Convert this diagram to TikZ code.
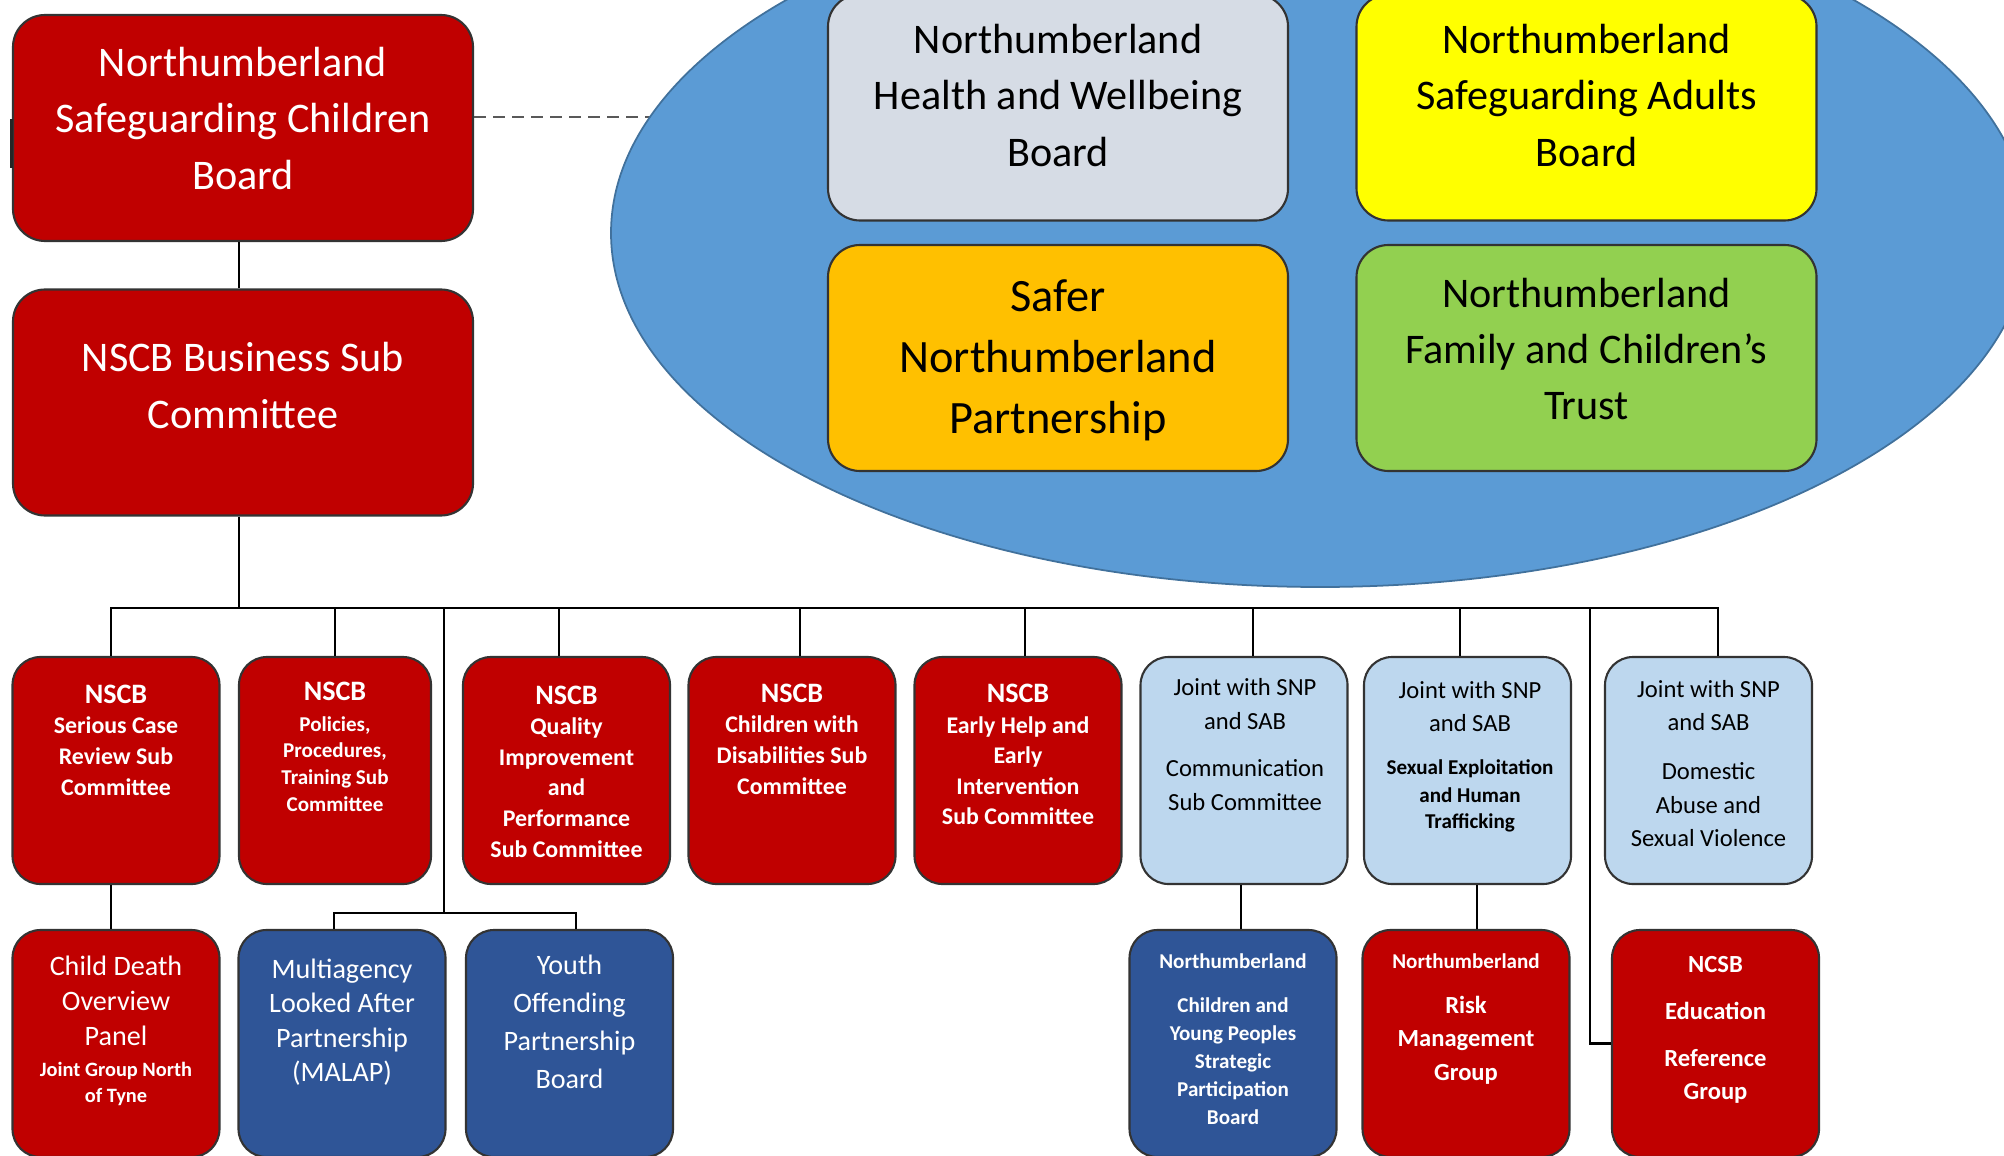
\documentclass[tikz,border=0pt]{standalone}
\usepackage{fontspec}
\setmainfont{Carlito}
\usetikzlibrary{shapes.geometric}
\definecolor{nscbred}{HTML}{C00000}
\definecolor{hubblue}{HTML}{5B9BD5}
\definecolor{hubline}{HTML}{41719C}
\definecolor{hwbgrey}{HTML}{D6DCE5}
\definecolor{sabyellow}{HTML}{FFFF00}
\definecolor{snporange}{HTML}{FFC000}
\definecolor{fctgreen}{HTML}{92D050}
\definecolor{jointblue}{HTML}{BDD7EE}
\definecolor{navyblue}{HTML}{2F5597}

\begin{document}
\begin{tikzpicture}[
  box/.style={draw=black!80, line width=0.6pt, inner sep=0pt, rounded corners=0.28cm},
  bigbox/.style={box, rounded corners=0.32cm, minimum width=4.6cm, minimum height=2.26cm},
  subbox/.style={box, minimum width=2.07cm, minimum height=2.27cm},
  bigtxt/.style={align=center, inner sep=0pt, font=\fontsize{12}{16}\selectfont},
  subtxt/.style={align=center, inner sep=0pt, text=white, font=\bfseries\fontsize{6.8}{8.7}\selectfont},
  jointtxt/.style={align=center, inner sep=0pt, font=\fontsize{7}{9.5}\selectfont},
  link/.style={black, line width=0.6pt}
]
\useasboundingbox (0,0) rectangle (20.04,-11.55);
\clip (0,0) rectangle (20.04,-11.55);

% board and business sub committee
\node[bigbox, fill=nscbred] (nscb) at (2.43,-1.28) {};
\node[bigtxt, text=white] (nscb-t) at (2.43,-1.185) {Northumberland\\Safeguarding Children\\Board};
\draw[black!85, line width=1pt] (0.115,-1.19) -- (0.115,-1.68);
\node[bigbox, fill=nscbred] (bsc) at (2.43,-4.025) {};
\node[bigtxt, text=white] (bsc-t) at (2.43,-3.855) {NSCB Business Sub\\Committee};

% partner boards
\coordinate (dashend) at (8.0,-1.17);
\draw[black!65, line width=0.6pt, dash pattern=on 0.12cm off 0.07cm] ([yshift=1.1mm]nscb.east) -- (dashend);
\coordinate (hubc) at (13.20,-2.33);
\node[ellipse, fill=hubblue, draw=hubline, line width=0.5pt, inner sep=0pt,
  minimum width=14.18cm, minimum height=7.08cm] (hub) at (hubc) {};

\node[bigbox, fill=hwbgrey] (hwb) at (10.58,-1.075) {};
\node[bigtxt] (hwb-t) at (10.58,-0.955) {Northumberland\\Health and Wellbeing\\Board};
\node[bigbox, fill=sabyellow] (sab) at (15.865,-1.075) {};
\node[bigtxt] (sab-t) at (15.865,-0.955) {Northumberland\\Safeguarding Adults\\Board};
\node[bigbox, fill=snporange] (snp) at (10.58,-3.58) {};
\node[bigtxt, font=\fontsize{13.2}{17.4}\selectfont] (snp-t) at (10.58,-3.60) {Safer\\Northumberland\\Partnership};
\node[bigbox, fill=fctgreen] (fct) at (15.865,-3.58) {};
\node[bigtxt] (fct-t) at (15.865,-3.49) {Northumberland\\Family and Children’s\\Trust};

% sub committees
\node[subbox, fill=nscbred] (scr) at (1.16,-7.705) {};
\node[subtxt] (scr-t) at (1.16,-7.40) {{\fontsize{8}{8.7}\selectfont NSCB}\\Serious Case\\Review Sub\\Committee};
\node[subbox, fill=nscbred, minimum width=1.92cm] (ppt) at (3.35,-7.705) {};
\node[subtxt, font=\bfseries\fontsize{6}{7.6}\selectfont] (ppt-t) at (3.35,-7.47) {{\fontsize{8}{8.7}\selectfont NSCB}\\[1pt]Policies,\\Procedures,\\Training Sub\\Committee};
\node[subbox, fill=nscbred] (qip) at (5.665,-7.705) {};
\node[subtxt] (qip-t) at (5.665,-7.715) {{\fontsize{8}{8.7}\selectfont NSCB}\\Quality\\Improvement\\and\\Performance\\Sub Committee};
\node[subbox, fill=nscbred] (cwd) at (7.92,-7.705) {};
\node[subtxt] (cwd-t) at (7.92,-7.39) {{\fontsize{8}{8.7}\selectfont NSCB}\\Children with\\Disabilities Sub\\Committee};
\node[subbox, fill=nscbred] (ehi) at (10.18,-7.705) {};
\node[subtxt] (ehi-t) at (10.18,-7.545) {{\fontsize{8}{8.7}\selectfont NSCB}\\Early Help and\\Early\\Intervention\\Sub Committee};
\node[subbox, fill=jointblue] (com) at (12.44,-7.705) {};
\node[jointtxt] (com-t) at (12.45,-7.445) {Joint with SNP\\and SAB\\[4pt]Communication\\Sub Committee};
\node[subbox, fill=jointblue] (seh) at (14.675,-7.705) {};
\node[jointtxt] (seh-t) at (14.70,-7.565) {Joint with SNP\\and SAB\\[2.7pt]{\bfseries\fontsize{6}{7.6}\selectfont Sexual Exploitation}\\[-1.7pt]{\bfseries\fontsize{6}{7.6}\selectfont and Human}\\[-2.1pt]{\bfseries\fontsize{6}{7.6}\selectfont Trafficking}};
\node[subbox, fill=jointblue] (dav) at (17.085,-7.705) {};
\node[jointtxt] (dav-t) at (17.085,-7.635) {Joint with SNP\\and SAB\\[4.4pt]Domestic\\Abuse and\\Sexual Violence};

% second level
\node[subbox, fill=nscbred] (cdo) at (1.16,-10.435) {};
\node[align=center, inner sep=0pt, text=white, font=\fontsize{8}{10}\selectfont] (cdo-t) at (1.16,-10.31) {Child Death\\Overview\\Panel\\[-1.2pt]{\bfseries\fontsize{5.8}{7.4}\selectfont Joint Group North}\\[-2.6pt]{\bfseries\fontsize{5.8}{7.4}\selectfont of Tyne}};
\node[subbox, fill=navyblue] (mal) at (3.42,-10.435) {};
\node[align=center, inner sep=0pt, text=white, font=\fontsize{8}{9.8}\selectfont] (mal-t) at (3.42,-10.22) {Multiagency\\Looked After\\Partnership\\(MALAP)};
\node[subbox, fill=navyblue] (yop) at (5.695,-10.435) {};
\node[align=center, inner sep=0pt, text=white, font=\fontsize{8}{10.8}\selectfont] (yop-t) at (5.695,-10.22) {Youth\\Offending\\Partnership\\Board};
\node[subbox, fill=navyblue] (cyp) at (12.33,-10.435) {};
\node[subtxt, font=\bfseries\fontsize{6}{8}\selectfont] (cyp-t) at (12.33,-10.395) {Northumberland\\[4.3pt]Children and\\Young Peoples\\Strategic\\Participation\\Board};
\node[subbox, fill=nscbred] (rmg) at (14.66,-10.435) {};
\node[subtxt, font=\bfseries\fontsize{7}{9.4}\selectfont] (rmg-t) at (14.66,-10.19) {{\fontsize{6}{7.6}\selectfont Northumberland}\\[3.4pt]Risk\\Management\\Group};
\node[subbox, fill=nscbred] (edu) at (17.155,-10.435) {};
\node[subtxt, font=\bfseries\fontsize{7}{9.4}\selectfont] (edu-t) at (17.155,-10.30) {NCSB\\[4pt]Education\\[4pt]Reference\\Group};

% connectors
\coordinate (jc) at (2.39,-6.08);
\coordinate (j1) at (1.11,-6.08);
\coordinate (j2) at (3.35,-6.08);
\coordinate (jb) at (4.44,-6.08);
\coordinate (j3) at (5.59,-6.08);
\coordinate (j4) at (8.00,-6.08);
\coordinate (j5) at (10.25,-6.08);
\coordinate (j6) at (12.53,-6.08);
\coordinate (j7) at (14.60,-6.08);
\coordinate (je) at (15.90,-6.08);
\coordinate (j8) at (17.18,-6.08);
\draw[link] (nscb.south -| jc) -- (bsc.north -| jc);
\draw[link] (bsc.south -| jc) -- (jc);
\draw[link] (j1 |- scr.north) -- (j1) -- (j8) -- (j8 |- dav.north);
\draw[link] (j2) -- (j2 |- ppt.north);
\draw[link] (j3) -- (j3 |- qip.north);
\draw[link] (j4) -- (j4 |- cwd.north);
\draw[link] (j5) -- (j5 |- ehi.north);
\draw[link] (j6) -- (j6 |- com.north);
\draw[link] (j7) -- (j7 |- seh.north);
\draw[link] (j1 |- scr.south) -- (j1 |- cdo.north);
\coordinate (bl) at (3.34,-9.13);
\coordinate (br) at (5.76,-9.13);
\draw[link] (jb) -- (jb |- bl);
\draw[link] (bl |- mal.north) -- (bl) -- (br) -- (br |- yop.north);
\coordinate (k6) at (12.41,-9.05);
\draw[link] (k6 |- com.south) -- (k6 |- cyp.north);
\coordinate (k7) at (14.77,-9.05);
\draw[link] (k7 |- seh.south) -- (k7 |- rmg.north);
\draw[link] (je) -- (je |- edu.west) -- (edu.west);

\end{tikzpicture}
\end{document}
